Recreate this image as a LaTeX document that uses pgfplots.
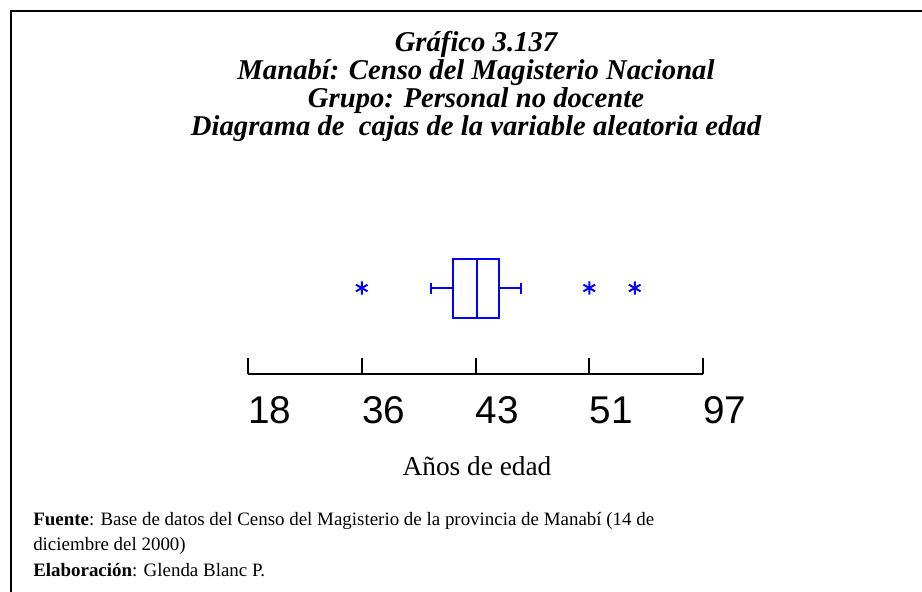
\documentclass[border=0pt]{standalone}
\usepackage{fontspec}
\setmainfont{Liberation Serif}
\newfontfamily\arialfont{Liberation Sans}
\usepackage{pgfplots}
\pgfplotsset{compat=1.18}
\usepgfplotslibrary{statistics}

\begin{document}
\begin{tikzpicture}
% 1px of the reference = 0.75pt, y grows downwards as negative
\useasboundingbox (0,0) rectangle (691.5pt,-444pt);
\draw[line width=1.5pt] (8.25pt,-444pt) -- (8.25pt,-8.25pt) -- (692pt,-8.25pt);

% title
\begin{scope}[every node/.style={anchor=base, inner sep=0pt, font=\fontsize{21.5}{21.5}\selectfont\bfseries\itshape}]
\node at (357pt,-39pt) {Gráfico 3.137};
\node at (357pt,-60pt) {Manabí: Censo del Magisterio Nacional};
\node at (357pt,-81pt) {Grupo: Personal no docente};
\node at (357pt,-102pt) {Diagrama de\ \ cajas de la variable aleatoria edad};
\end{scope}

\begin{axis}[
  at={(186pt,-280.5pt)}, anchor=south west,
  x=85.3125pt, y=7.5pt,
  xmin=0, xmax=4, ymin=-8.6, ymax=4,
  axis x line*=bottom, axis y line=none,
  x axis line style={-, line width=1.5pt, black},
  xtick={0,1,2,3,4},
  xticklabels={18,36,43,51,97},
  ytick=\empty,
  tick align=inside,
  major tick length=12pt,
  tick style={line width=1.5pt, black},
  xticklabel style={font=\arialfont\fontsize{29}{29}\selectfont, anchor=base west, inner sep=0pt, yshift=-36.75pt},
  clip=false,
]
\addplot[blue, line width=1.5pt, mark=asterisk, mark size=5pt,
  mark options={solid, line width=1.5pt},
  boxplot prepared={draw direction=x, draw position=0,
    lower whisker=1.61, lower quartile=1.80, median=2.01,
    upper quartile=2.21, upper whisker=2.40,
    box extend=5.9, whisker extend=1.1}]
  coordinates {(0,1.0) (0,3.0) (0,3.4)};
\end{axis}

\node[anchor=base, font=\fontsize{20.5}{20.5}\selectfont] at (357.75pt,-356.25pt) {Años de edad};

\begin{scope}[every node/.style={anchor=base west, inner sep=0pt, font=\fontsize{14.2}{14.2}\selectfont}]
\node at (24.75pt,-393.75pt) {\textbf{Fuente}: Base de datos del Censo del Magisterio de la provincia de Manabí (14 de};
\node at (24.75pt,-412.9pt) {diciembre del 2000)};
\node at (24.75pt,-432pt) {\textbf{Elaboración}: Glenda Blanc P.};
\end{scope}
\end{tikzpicture}
\end{document}
